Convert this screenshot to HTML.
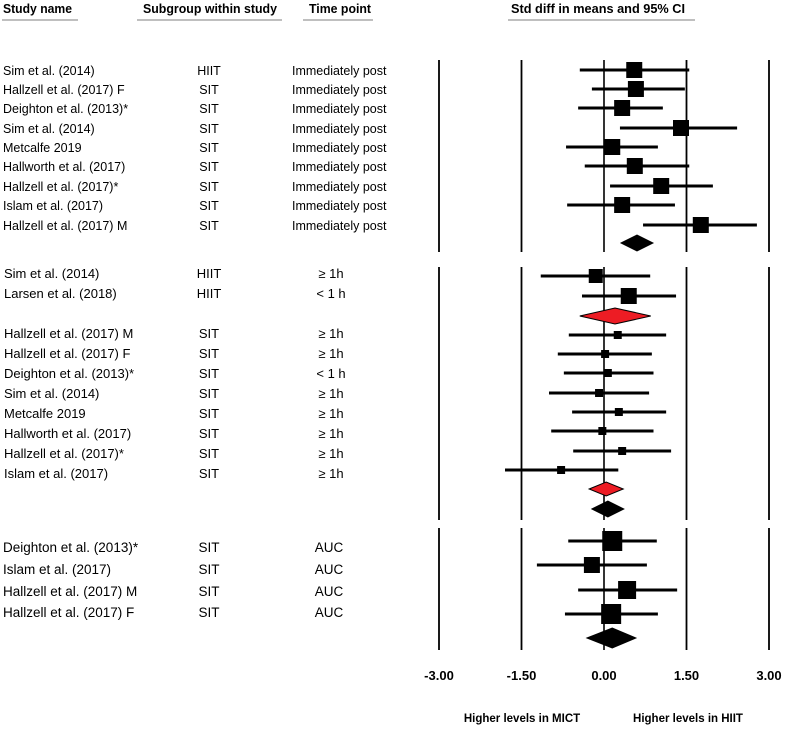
<!DOCTYPE html>
<html><head><meta charset="utf-8">
<style>
html,body{margin:0;padding:0;background:#fff;}
svg{display:block;font-family:"Liberation Sans",Arial,sans-serif;}
</style></head>
<body>
<svg id="chart" width="787" height="729" viewBox="0 0 787 729" xmlns="http://www.w3.org/2000/svg">
  <g font-weight="bold" font-size="13" fill="#000">
    <text x="3" y="13" textLength="69" lengthAdjust="spacingAndGlyphs">Study name</text>
    <line x1="2" y1="20" x2="78" y2="20" stroke="#999" stroke-width="1.2"/>
    <text x="143" y="13" textLength="134" lengthAdjust="spacingAndGlyphs">Subgroup within study</text>
    <line x1="137" y1="20" x2="282" y2="20" stroke="#999" stroke-width="1.2"/>
    <text x="309" y="13" textLength="62" lengthAdjust="spacingAndGlyphs">Time point</text>
    <line x1="303" y1="20" x2="373" y2="20" stroke="#999" stroke-width="1.2"/>
    <text x="511" y="13" textLength="174" lengthAdjust="spacingAndGlyphs">Std diff in means and 95% CI</text>
    <line x1="508" y1="20" x2="695" y2="20" stroke="#999" stroke-width="1.2"/>
  </g>
  <g id="labels" fill="#000"></g>
  <g id="grid"></g>
  <g id="marks"></g>
  <g id="axis" font-weight="bold" font-size="13"></g>
  <text x="522" y="722" text-anchor="middle" font-weight="bold" font-size="11.5">Higher levels in MICT</text>
  <text x="688" y="722" text-anchor="middle" font-weight="bold" font-size="11.5">Higher levels in HIIT</text>
</svg>
<script>
// Data
const studies1 = ["Sim et al. (2014)","Hallzell et al. (2017) F","Deighton et al. (2013)*","Sim et al. (2014)","Metcalfe 2019","Hallworth et al. (2017)","Hallzell et al. (2017)*","Islam et al. (2017)","Hallzell et al. (2017) M"];
const groups1 = ["HIIT","SIT","SIT","SIT","SIT","SIT","SIT","SIT","SIT"];
const times1 = ["Immediately post","Immediately post","Immediately post","Immediately post","Immediately post","Immediately post","Immediately post","Immediately post","Immediately post"];
const est1 = [0.55,0.58,0.33,1.40,0.15,0.56,1.04,0.33,1.76];
const lo1 = [-0.44,-0.22,-0.47,0.29,-0.69,-0.35,0.11,-0.67,0.71];
const hi1 = [1.55,1.47,1.07,2.42,0.98,1.55,1.98,1.29,2.78];
const pooled1 = [0.60,0.31,0.89];

const studies2 = ["Sim et al. (2014)","Larsen et al. (2018)","Hallzell et al. (2017) M","Hallzell et al. (2017) F","Deighton et al. (2013)*","Sim et al. (2014)","Metcalfe 2019","Hallworth et al. (2017)","Hallzell et al. (2017)*","Islam et al. (2017)"];
const groups2 = ["HIIT","HIIT","SIT","SIT","SIT","SIT","SIT","SIT","SIT","SIT"];
const times2 = ["≥ 1h","< 1 h","≥ 1h","≥ 1h","< 1 h","≥ 1h","≥ 1h","≥ 1h","≥ 1h","≥ 1h"];
const est2 = [-0.15,0.45,0.25,0.02,0.07,-0.09,0.27,-0.03,0.33,-0.78];
const lo2 = [-1.15,-0.40,-0.64,-0.84,-0.73,-1.00,-0.58,-0.96,-0.56,-1.80];
const hi2 = [0.84,1.31,1.13,0.87,0.90,0.82,1.13,0.90,1.22,0.26];
const boxSize2 = [14,16,8,8,8,8,8,8,8,8];
const pooledHIIT = [0.20,-0.44,0.85];
const pooledSIT = [0.04,-0.27,0.35];
const pooled2 = [0.07,-0.22,0.36];

const studies3 = ["Deighton et al. (2013)*","Islam et al. (2017)","Hallzell et al. (2017) M","Hallzell et al. (2017) F"];
const groups3 = ["SIT","SIT","SIT","SIT"];
const times3 = ["AUC","AUC","AUC","AUC"];
const est3 = [0.15,-0.22,0.42,0.13];
const lo3 = [-0.65,-1.22,-0.47,-0.71];
const hi3 = [0.96,0.78,1.33,0.98];
const boxSize3 = [20,16,18,20];
const pooled3 = [0.15,-0.31,0.58];

const ticks = [-3,-1.5,0,1.5,3];
const tickLabels = ["-3.00","-1.50","0.00","1.50","3.00"];

const NS="http://www.w3.org/2000/svg";
const X0=604, SCALE=55;
function xs(v){return X0+v*SCALE;}
function mk(tag,attrs,parent){const e=document.createElementNS(NS,tag);for(const k in attrs)e.setAttribute(k,attrs[k]);parent.appendChild(e);return e;}
const labels=document.getElementById('labels'), grid=document.getElementById('grid'), marks=document.getElementById('marks'), axis=document.getElementById('axis');

function text(str,x,y,anchor,fs){
  const t=mk('text',{x:x,y:y,'text-anchor':anchor,'font-size':fs},labels);
  t.textContent=str;
  
  return t;}

function study(v,l,h,y,s){
  const ln=mk('line',{x1:xs(l),x2:xs(h),y1:y,y2:y,stroke:'#000','stroke-width':3},marks);
  
  
  const r=mk('rect',{x:xs(v)-s/2,y:y-s/2,width:s,height:s,fill:'#000'},marks);
  
  
}
function diamond(p,y,color,h){
  const d=mk('polygon',{points:`${xs(p[1])},${y} ${xs(p[0])},${y-h} ${xs(p[2])},${y} ${xs(p[0])},${y+h}`,fill:color,stroke:'#000','stroke-width':1},marks);
  
  
}
function vlines(y1,y2){
  ticks.forEach(t=>{const l=mk('line',{x1:xs(t),x2:xs(t),y1:y1,y2:y2,stroke:'#000','stroke-width':t===0?1.6:1.8},grid);
  
  });
}

// Section 1
vlines(60,252);
const y1=[70,89,108,128,147,166,186,205,225];
studies1.forEach((s,i)=>{
  text(s,3,y1[i]+5,'start',12.5);
  text(groups1[i],209,y1[i]+5,'middle',12.5);
  text(times1[i],292,y1[i]+5,'start',12.5);
  study(est1[i],lo1[i],hi1[i],y1[i],16);
});
diamond(pooled1,243,'#000',8);

// Section 2
vlines(267,520);
const y2=[276,296,335,354,373,393,412,431,451,470];
const ly2=[273,293,333,353,373,393,413,433,453,473];
studies2.forEach((s,i)=>{
  text(s,4,ly2[i]+5,'start',13);
  text(groups2[i],209,ly2[i]+5,'middle',13);
  text(times2[i],331,ly2[i]+5,'middle',13);
  study(est2[i],lo2[i],hi2[i],y2[i],boxSize2[i]);
});
diamond(pooledHIIT,316,'#ed1c24',8);
diamond(pooledSIT,489,'#ed1c24',7);
diamond(pooled2,509,'#000',8);

// Section 3
vlines(528,650);
const y3=[541,565,590,614];
const ly3=[547,569,591,612];
studies3.forEach((s,i)=>{
  text(s,3,ly3[i]+5,'start',13.5);
  text(groups3[i],209,ly3[i]+5,'middle',13.5);
  text(times3[i],329,ly3[i]+5,'middle',13.5);
  study(est3[i],lo3[i],hi3[i],y3[i],boxSize3[i]);
});
diamond(pooled3,638,'#000',10);

// Axis labels
ticks.forEach((t,i)=>{const e=mk('text',{x:xs(t),y:680,'text-anchor':'middle'},axis);e.textContent=tickLabels[i];

});
</script>
</body></html>
